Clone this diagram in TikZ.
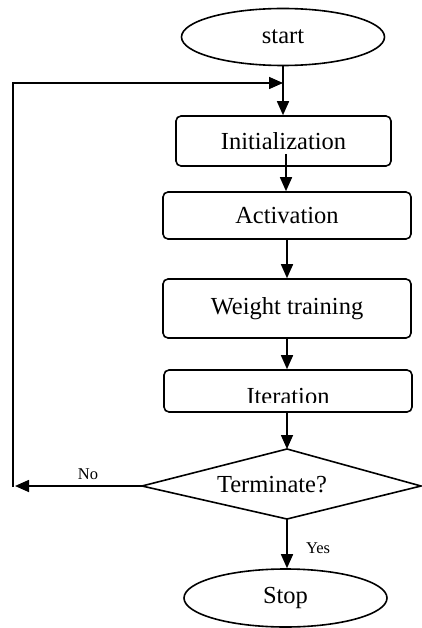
\documentclass[tikz,border=0pt]{standalone}
\usepackage{fontspec}
\setmainfont{Liberation Serif}
\usetikzlibrary{shapes.geometric,arrows.meta}
\begin{document}
\begin{tikzpicture}[x=1pt,y=-1pt,
  arr/.style={line width=1.6pt,-{Triangle[length=14pt,width=12pt]}},
  ln/.style={line width=1.6pt},
  box/.style={draw,line width=1.6pt,rounded corners=5pt,inner sep=0pt,font=\fontsize{24.5}{28}\selectfont},
  oval/.style={draw,ellipse,line width=1.6pt,inner sep=0pt,font=\fontsize{24.5}{28}\selectfont},
  lbl/.style={inner sep=0pt,font=\fontsize{24.5}{28}\selectfont},
  small/.style={inner sep=0pt,font=\fontsize{16.5}{19}\selectfont}]
\useasboundingbox (0,0) rectangle (421,628);
% nodes
\node[oval,minimum width=203pt,minimum height=57pt] (start) at (283,37) {start};
\node[box,minimum width=215pt,minimum height=50pt] (init) at (283.5,141) {Initialization};
\node[box,minimum width=248pt,minimum height=47pt] (act) at (287,215.5) {Activation};
\node[box,minimum width=248pt,minimum height=59pt] (wt) at (287,308.5) {Weight training};
\node[box,minimum width=248pt,minimum height=42pt] (iter) at (288,391) {};
\begin{scope}
  \clip (164,370) rectangle (412,402);
  \node[lbl,anchor=base] (itertext) at (288,404) {Iteration};
\end{scope}
% diamond
\coordinate (dt) at (287,449);
\coordinate (dl) at (142,486);
\coordinate (dr) at (421,486);
\coordinate (db) at (287,519);
\draw[ln,line join=miter] (dt) -- (dr) -- (db) -- (dl) -- cycle;
\node[lbl] (term) at (272,485) {Terminate?};
\node[oval,minimum width=203pt,minimum height=58pt] (stop) at (285.5,598) {Stop};
% connectors
\coordinate (i1) at (286,154);
\coordinate (loopbot) at (13,487);
\coordinate (looptop) at (13,83);
\coordinate (noend) at (15,486);
\draw[arr] (start.south) -- (init.north -| start.south);
\draw[arr] (i1) -- (i1 |- act.north);
\draw[arr] (act.south) -- (wt.north);
\draw[arr] (wt.south) -- (wt.south |- iter.north);
\draw[arr] (iter.south -| dt) -- (dt);
\draw[arr] (db) -- (db |- stop.north);
\draw[arr] (dl) -- (noend);
\draw[arr] (loopbot) -- (looptop) -- (looptop -| start.south);
% labels
\node[small] (no) at (88,474) {No};
\node[small] (yes) at (318,548) {Yes};
\end{tikzpicture}
\end{document}
